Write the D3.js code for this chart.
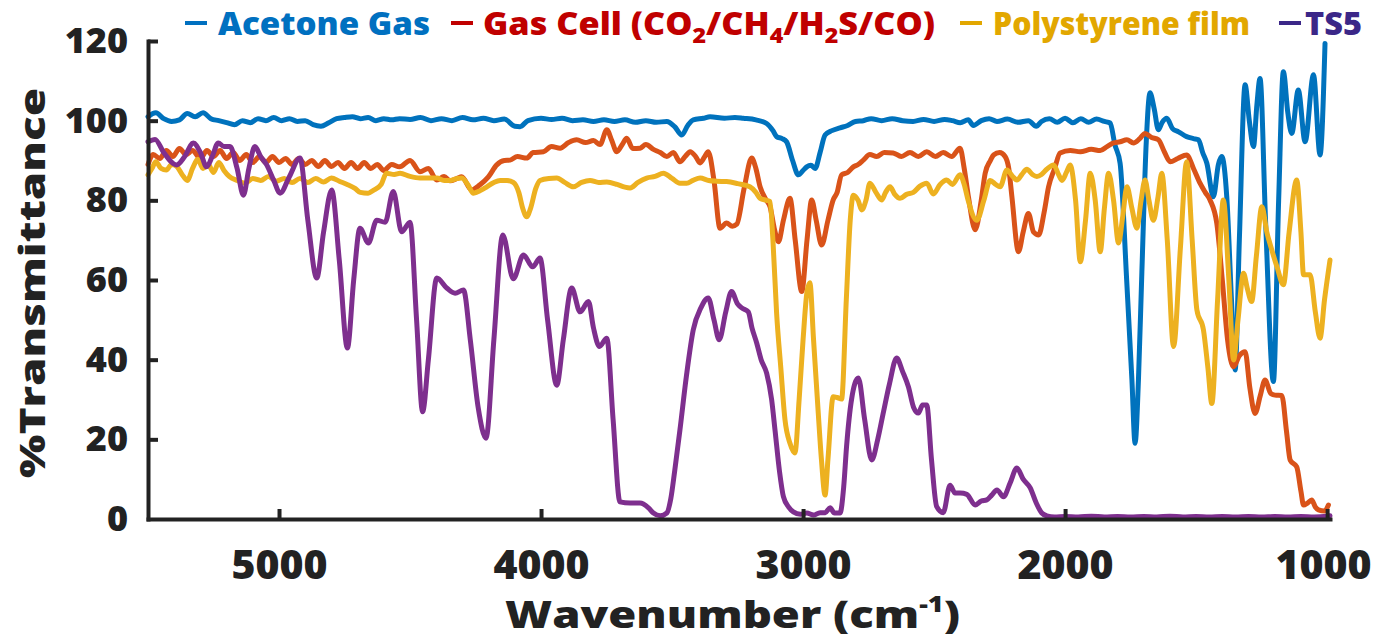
<!DOCTYPE html>
<html>
<head>
<meta charset="utf-8">
<script src="https://cdn.jsdelivr.net/npm/d3@7"></script>
<style>
    body { margin: 0; background: #fff; }
    text { font-family: "Open Sans", "DejaVu Sans", sans-serif; font-weight: 800; }
</style>
</head>
<body>
<div id="wrapper"></div>
<script>
// [wavenumber (cm-1), %transmittance]
const acetoneGas = [
    [5500, 101], [5470, 102], [5440, 100.5], [5410, 99.8], [5380, 100.2], [5350, 101.8], [5320, 101], [5290, 102],
    [5260, 100.5], [5230, 100], [5200, 99.5], [5170, 99], [5140, 100], [5110, 99.5], [5080, 100.5], [5050, 100],
    [5020, 100.8], [4990, 100], [4960, 100.5], [4930, 99.8], [4900, 100], [4870, 99], [4840, 98.6], [4810, 99.5],
    [4780, 100.5], [4750, 100.8], [4720, 101], [4690, 100.5], [4660, 100.8], [4630, 100], [4600, 100.5], [4570, 100.2],
    [4540, 100.5], [4500, 100.3], [4460, 100.8], [4420, 100], [4380, 100.5], [4340, 100], [4300, 100.8], [4260, 100.2],
    [4220, 100.6], [4180, 100], [4140, 100.4], [4100, 98.6], [4080, 98.5], [4050, 100], [4000, 100.6], [3960, 100.3],
    [3920, 100.6], [3880, 100], [3840, 100.2], [3800, 99.8], [3760, 100.2], [3720, 99.8], [3680, 100.2], [3640, 99.6],
    [3600, 100], [3560, 99.6], [3520, 99.8], [3490, 98.5], [3463, 96.4], [3440, 98.8], [3419, 100.2], [3380, 100.6],
    [3355, 101], [3300, 100.6], [3260, 100.8], [3228, 100.6], [3180, 100.2], [3139, 99.3], [3115, 97.5], [3101, 96],
    [3080, 95.5], [3063, 94.7], [3040, 90], [3018, 86.4], [3000, 87.5], [2986, 88.4], [2970, 88.8], [2954, 88],
    [2935, 92], [2916, 96.4], [2890, 97.5], [2859, 98.2], [2830, 98.8], [2800, 99.8], [2770, 100], [2740, 100.5],
    [2700, 100], [2660, 100.5], [2620, 100], [2580, 99.8], [2540, 100.3], [2500, 99.8], [2460, 100.3], [2430, 100],
    [2400, 99.5], [2370, 100.2], [2350, 98.8], [2320, 100], [2290, 100.5], [2260, 99.8], [2220, 100.4], [2180, 99.6],
    [2140, 100], [2110, 98.6], [2090, 99.8], [2060, 100.5], [2030, 99.6], [2000, 100.6], [1970, 99.5], [1940, 100.5],
    [1910, 99.6], [1880, 100.4], [1850, 99.8], [1828, 99.4], [1810, 94], [1790, 89.3], [1765, 60], [1745, 35],
    [1733, 19], [1720, 35], [1707, 62], [1690, 95], [1676, 107], [1660, 103], [1644, 97.7], [1630, 99.5],
    [1612, 100.6], [1590, 98], [1567, 97.2], [1536, 96], [1510, 95.5], [1491, 95.2], [1475, 92], [1459, 89.3],
    [1434, 80.9], [1415, 89], [1402, 91], [1383, 80.9], [1365, 55], [1351, 37.4], [1335, 70], [1313, 109],
    [1297, 100], [1281, 93.5], [1268, 104], [1256, 110.6], [1235, 75], [1205, 34.5], [1185, 80], [1167, 112.3],
    [1150, 102], [1135, 96.8], [1110, 107.7], [1084, 94.7], [1052, 111.5], [1027, 91.4], [1008, 119.4]
];

const gasCell = [
    [5500, 89], [5480, 91.5], [5455, 90.5], [5430, 92.5], [5405, 91], [5380, 93], [5355, 91.5], [5330, 92.5],
    [5300, 90.5], [5275, 92.5], [5250, 91], [5225, 92.5], [5200, 90.5], [5175, 92], [5150, 90], [5125, 91.5],
    [5100, 89.5], [5075, 91], [5050, 89.5], [5025, 91], [5000, 89.5], [4975, 90.5], [4950, 89], [4925, 90.5],
    [4900, 89], [4875, 90], [4850, 88.5], [4825, 90], [4800, 88.5], [4775, 89.5], [4750, 88], [4725, 89.5],
    [4700, 88], [4675, 89.5], [4650, 88], [4625, 89], [4600, 87.5], [4570, 89], [4540, 88.4], [4500, 90],
    [4462, 87.2], [4430, 88], [4398, 85.1], [4370, 86], [4347, 84.9], [4320, 85.5], [4303, 85.9], [4265, 82.6],
    [4233, 83.9], [4201, 85.9], [4169, 88.9], [4140, 90], [4118, 90.1], [4090, 91], [4055, 90.6], [4030, 92],
    [3991, 92.2], [3960, 93.5], [3927, 93.1], [3895, 94.5], [3864, 95.2], [3830, 94.5], [3800, 95], [3775, 94],
    [3749, 97.7], [3730, 95], [3711, 92.2], [3690, 94], [3673, 95.6], [3650, 93], [3622, 93.1], [3600, 94],
    [3571, 92.8], [3545, 92], [3520, 91], [3495, 92], [3470, 89.7], [3450, 91], [3431, 92.2], [3410, 91],
    [3393, 89.4], [3375, 91], [3362, 92.2], [3340, 85], [3317, 73], [3292, 74.3], [3270, 73.5], [3253, 74],
    [3225, 83], [3196, 90.6], [3180, 88], [3164, 83.4], [3140, 80], [3126, 78.4], [3110, 73], [3094, 69.6],
    [3075, 75], [3050, 80.5], [3030, 70], [3005, 57.1], [2985, 70], [2967, 80.1], [2950, 75], [2929, 68.8],
    [2905, 75], [2885, 80.1], [2870, 82], [2853, 86.4], [2830, 87], [2808, 88.4], [2790, 89], [2770, 90.1],
    [2745, 91.5], [2719, 91], [2690, 92], [2656, 91.9], [2625, 91], [2592, 92], [2560, 91], [2528, 92.2],
    [2495, 91], [2465, 92], [2433, 91], [2401, 93.1], [2385, 88], [2369, 80.9], [2343, 72.6], [2320, 80],
    [2305, 86.8], [2285, 90], [2273, 91.4], [2250, 92], [2229, 91], [2215, 88], [2203, 80.9], [2178, 67.1],
    [2160, 72], [2140, 76.7], [2120, 72], [2101, 71.3], [2080, 77], [2063, 83.4], [2040, 88], [2019, 91.9],
    [1980, 92.5], [1942, 92.2], [1900, 92.8], [1866, 92.5], [1840, 93.5], [1815, 94.4], [1790, 94.7], [1764, 95.2],
    [1739, 94.4], [1715, 95.5], [1695, 96.8], [1670, 95.8], [1644, 95.2], [1620, 92], [1599, 89.7], [1570, 90.5],
    [1536, 91.4], [1510, 88], [1485, 84.3], [1465, 82], [1447, 80.1], [1421, 74.2], [1400, 60], [1380, 45],
    [1357, 38.2], [1335, 41], [1313, 42], [1295, 33], [1275, 26.5], [1255, 31], [1237, 34.9], [1215, 31.5],
    [1199, 31.1], [1173, 31], [1155, 22], [1141, 14.8], [1116, 13.1], [1100, 7], [1090, 3.5], [1075, 4],
    [1059, 4.8], [1045, 3], [1033, 2.3], [1010, 2], [995, 3.5]
];

const polystyrene = [
    [5500, 86.4], [5485, 88], [5470, 89.7], [5450, 88], [5430, 87.6], [5410, 89], [5390, 88.5], [5370, 86.5],
    [5350, 85], [5330, 88], [5310, 90.3], [5290, 88], [5270, 89], [5250, 87], [5230, 89.5], [5210, 87.5],
    [5190, 86], [5160, 85], [5130, 84.3], [5100, 85.5], [5070, 85], [5040, 86], [5010, 84.8], [4980, 85.5],
    [4950, 84.5], [4920, 85.5], [4890, 84.5], [4860, 85.5], [4830, 84.6], [4800, 85.6], [4770, 84.8], [4740, 84],
    [4710, 83], [4690, 82], [4660, 81.8], [4640, 82.5], [4610, 84], [4590, 86.8], [4560, 86.5], [4538, 86.8],
    [4500, 86], [4462, 85.6], [4430, 85.6], [4398, 85.6], [4370, 85], [4347, 85], [4320, 85.5], [4303, 85.6],
    [4280, 84], [4258, 81.8], [4230, 82.5], [4207, 83.4], [4180, 84.5], [4156, 85], [4130, 85], [4106, 84.5],
    [4085, 82], [4070, 78], [4055, 75.9], [4040, 78], [4020, 83], [4004, 85], [3970, 85.5], [3940, 85.6],
    [3910, 84.5], [3877, 83.4], [3845, 84.5], [3813, 85], [3780, 84.5], [3749, 84.6], [3710, 84], [3680, 83.3],
    [3660, 83.1], [3630, 84.5], [3597, 85.6], [3565, 86], [3533, 86.8], [3500, 85.5], [3470, 84.3], [3444, 84.3],
    [3420, 85], [3393, 85.6], [3360, 85], [3330, 84.8], [3292, 84.7], [3250, 84.2], [3203, 83.4], [3180, 82],
    [3164, 80.5], [3140, 80], [3126, 79.7], [3115, 70], [3101, 51.7], [3085, 38], [3069, 24.9], [3050, 19],
    [3031, 16.6], [3015, 30], [3000, 45], [2985, 57], [2974, 59.3], [2960, 45], [2942, 26.6], [2930, 15],
    [2916, 6], [2905, 15], [2885, 30.7], [2870, 30.5], [2853, 30.1], [2835, 55], [2820, 75], [2808, 81.3],
    [2790, 80], [2776, 77.6], [2760, 80], [2745, 84.3], [2722, 82], [2700, 80.1], [2685, 82], [2668, 83.4],
    [2650, 81.5], [2630, 80.5], [2605, 81.5], [2579, 82], [2555, 83.5], [2528, 84.3], [2503, 81.6], [2477, 84],
    [2452, 85.1], [2430, 84], [2401, 86.4], [2385, 84], [2370, 80], [2337, 75], [2310, 80], [2286, 85],
    [2265, 84], [2248, 83.4], [2222, 87.6], [2200, 86], [2184, 85.1], [2165, 86.5], [2146, 87.8], [2125, 86.5],
    [2108, 86], [2090, 86.5], [2070, 87.8], [2044, 88.9], [2025, 86.5], [2012, 85], [1995, 87], [1981, 88.9],
    [1960, 80], [1942, 64.6], [1922, 75], [1904, 86.8], [1885, 80], [1866, 67.1], [1850, 78], [1834, 86.8],
    [1815, 80], [1796, 69.3], [1780, 76], [1764, 83.4], [1745, 78], [1726, 73], [1710, 80], [1695, 85.1],
    [1680, 80], [1663, 75], [1645, 81], [1631, 86.8], [1610, 70], [1586, 43.3], [1560, 68], [1536, 89.7],
    [1515, 70], [1497, 52.5], [1472, 47.5], [1455, 38], [1440, 29], [1418, 55], [1396, 80.1], [1375, 60],
    [1357, 39.9], [1340, 50], [1319, 61.7], [1305, 58], [1288, 54.6], [1270, 66], [1249, 78.4], [1230, 72],
    [1211, 67.5], [1190, 63], [1167, 58.8], [1145, 72], [1116, 85.1], [1100, 72], [1090, 61.3], [1065, 61.3],
    [1045, 52], [1027, 45.4], [1010, 55], [989, 65]
];

const ts5 = [
    [5500, 94.7], [5473, 95.3], [5440, 92], [5391, 88.9], [5360, 91], [5327, 94.4], [5300, 92], [5276, 88.4],
    [5255, 91], [5232, 94.4], [5210, 93.5], [5187, 93.5], [5160, 88], [5136, 81.3], [5115, 88], [5092, 93.5],
    [5070, 91], [5047, 88.9], [5020, 85], [4996, 81.8], [4960, 86], [4920, 90.6], [4890, 75], [4856, 60.5],
    [4830, 72], [4799, 82.6], [4770, 65], [4739, 42.9], [4715, 60], [4691, 73], [4659, 69.3], [4627, 75],
    [4595, 74.5], [4564, 82.2], [4532, 72.1], [4500, 74.5], [4475, 50], [4452, 26.9], [4430, 40], [4398, 60.5],
    [4360, 58], [4328, 56.7], [4296, 57.5], [4270, 45], [4240, 28], [4210, 20.3], [4180, 45], [4146, 71.3],
    [4106, 60.3], [4067, 66.3], [4032, 63.3], [4004, 65.5], [3975, 50], [3940, 33.6], [3915, 45], [3883, 58],
    [3851, 52], [3819, 54.6], [3800, 48], [3777, 43.3], [3749, 45.4], [3725, 25], [3699, 4.3], [3660, 4],
    [3622, 4], [3590, 2.8], [3571, 1.5], [3545, 0.8], [3520, 1.5], [3505, 5], [3490, 12], [3470, 22.3],
    [3445, 36], [3419, 47.5], [3390, 53], [3362, 55.5], [3340, 50], [3320, 45], [3295, 52], [3273, 57.1],
    [3250, 54], [3234, 53], [3209, 52], [3195, 48], [3177, 44.2], [3160, 40], [3139, 36.6], [3120, 30],
    [3107, 22.3], [3090, 12], [3075, 5.6], [3055, 3], [3037, 1.8], [3010, 1.2], [2986, 1.5], [2960, 1],
    [2935, 1.6], [2915, 1.6], [2897, 2.8], [2880, 1.5], [2859, 1.5], [2845, 8], [2834, 18.2], [2815, 30],
    [2789, 35.4], [2765, 25], [2738, 14.8], [2715, 20], [2694, 26.6], [2670, 34], [2643, 40.4], [2620, 37],
    [2598, 33.2], [2578, 28], [2560, 26.6], [2544, 28.6], [2528, 28.6], [2510, 15], [2490, 3.1], [2465, 1.6],
    [2439, 8.5], [2420, 6.5], [2400, 6.5], [2375, 6.2], [2343, 3.5], [2320, 4.5], [2299, 4.8], [2280, 6],
    [2260, 7.3], [2235, 5.6], [2210, 9], [2184, 12.8], [2160, 10], [2133, 7.8], [2110, 4], [2089, 1.5],
    [2070, 0.8], [2040, 0.5], [2000, 0.6], [1950, 0.5], [1900, 0.7], [1850, 0.5], [1800, 0.6], [1750, 0.5],
    [1700, 0.6], [1650, 0.5], [1600, 0.7], [1550, 0.5], [1500, 0.6], [1450, 0.5], [1400, 0.6], [1350, 0.5],
    [1300, 0.6], [1250, 0.5], [1200, 0.6], [1150, 0.5], [1100, 0.6], [1050, 0.5], [1000, 0.7], [989, 0.8]
];

const seriesNames = ["Acetone Gas", "Gas Cell", "Polystyrene film", "TS5"];
const lineColors = ["#0072BD", "#D95319", "#EDB120", "#7E2F8E"];
const legendColors = ["#0070C0", "#C00000", "#E2A700", "#3B2788"];
const xTicks = [5000, 4000, 3000, 2000, 1000];
const yTicks = [0, 20, 40, 60, 80, 100, 120];

const dimension = {
    width: 1373,
    height: 641,
    plot: { left: 148, right: 1330, top: 41, bottom: 519 }
};

function buildPlot() {
    const svg = d3.select("#wrapper").append("svg")
        .attr("width", dimension.width)
        .attr("height", dimension.height);

    const xScale = d3.scaleLinear()
        .domain([5500, 989])
        .range([dimension.plot.left, dimension.plot.right]);
    const yScale = d3.scaleLinear()
        .domain([0, 120])
        .range([dimension.plot.bottom, dimension.plot.top]);

    // lines
    const line = d3.line()
        .x(d => xScale(d[0]))
        .y(d => yScale(d[1]))
        .curve(d3.curveMonotoneX);

    const allSeries = [acetoneGas, gasCell, polystyrene, ts5];
    svg.append("g").selectAll("path")
        .data(allSeries)
        .enter()
        .append("path")
        .attr("d", line)
        .attr("fill", "none")
        .attr("stroke", (d, i) => lineColors[i])
        .attr("stroke-width", 5)
        .attr("stroke-linejoin", "round")
        .attr("stroke-linecap", "round");

    // axes
    const xAxis = svg.append("g")
        .attr("transform", `translate(0,${dimension.plot.bottom})`)
        .call(d3.axisBottom(xScale).tickValues(xTicks).tickFormat(d3.format("d"))
            .tickSizeInner(-10).tickSizeOuter(0).tickPadding(31));
    const yAxis = svg.append("g")
        .attr("transform", `translate(${dimension.plot.left},0)`)
        .call(d3.axisLeft(yScale).tickValues(yTicks).tickFormat(d3.format("d"))
            .tickSizeInner(-10).tickSizeOuter(0).tickPadding(20));

    [xAxis, yAxis].forEach(ax => {
        ax.select(".domain").attr("stroke", "#222").attr("stroke-width", 4).attr("stroke-linecap", "square");
        ax.selectAll(".tick line").attr("stroke", "#222").attr("stroke-width", 4);
        ax.selectAll(".tick text").attr("fill", "#222").style("font-family", '"Open Sans", sans-serif').style("font-weight", 800);
    });
    xAxis.selectAll(".tick text").style("font-size", "41px");
    yAxis.selectAll(".tick text").style("font-size", "36px");
    yAxis.selectAll(".tick").filter(d => d === 0).select("line").remove();
    // last label sits against the right edge
    xAxis.selectAll(".tick").filter(d => d === 1000).select("text")
        .attr("text-anchor", "end")
        .attr("x", dimension.width - 2 - xScale(1000));

    // axis titles
    svg.append("text")
        .attr("transform", "translate(45,283) rotate(-90)")
        .attr("text-anchor", "middle")
        .attr("textLength", 390)
        .attr("lengthAdjust", "spacingAndGlyphs")
        .attr("fill", "#222")
        .style("font-size", "36px")
        .text("%Transmittance");

    const xTitle = svg.append("text")
        .attr("x", 505)
        .attr("y", 628)
        .attr("textLength", 455)
        .attr("lengthAdjust", "spacingAndGlyphs")
        .attr("fill", "#222")
        .style("font-size", "37px");
    xTitle.append("tspan").text("Wavenumber (cm");
    xTitle.append("tspan").attr("dy", -16).style("font-size", "22px").text("-1");
    xTitle.append("tspan").attr("dy", 16).text(")");

    // legend
    const legendItems = [
        { x0: 185, tx: 218, len: 212, parts: [["Acetone Gas", 0]] },
        { x0: 451, tx: 483, len: 452, parts: [["Gas Cell (CO", 0], ["2", 1], ["/CH", 0], ["4", 1], ["/H", 0], ["2", 1], ["S/CO)", 0]] },
        { x0: 960, tx: 993, len: 257, parts: [["Polystyrene film", 0]] },
        { x0: 1279, tx: 1305, len: 57, parts: [["TS5", 0]] }
    ];
    const legend = svg.append("g");
    legendItems.forEach((item, i) => {
        legend.append("line")
            .attr("x1", item.x0).attr("x2", item.x0 + 22)
            .attr("y1", 23).attr("y2", 23)
            .attr("stroke", legendColors[i])
            .attr("stroke-width", 4);
        const t = legend.append("text")
            .attr("x", item.tx)
            .attr("y", 35)
            .attr("textLength", item.len)
            .attr("lengthAdjust", "spacingAndGlyphs")
            .attr("fill", legendColors[i])
            .style("font-size", "31px");
        let sub = 0;
        item.parts.forEach(p => {
            const dy = p[1] === sub ? 0 : (p[1] ? 8 : -8);
            sub = p[1];
            t.append("tspan")
                .attr("dy", dy)
                .style("font-size", p[1] ? "21px" : "31px")
                .text(p[0]);
        });
    });
}

buildPlot();
</script>
</body>
</html>
